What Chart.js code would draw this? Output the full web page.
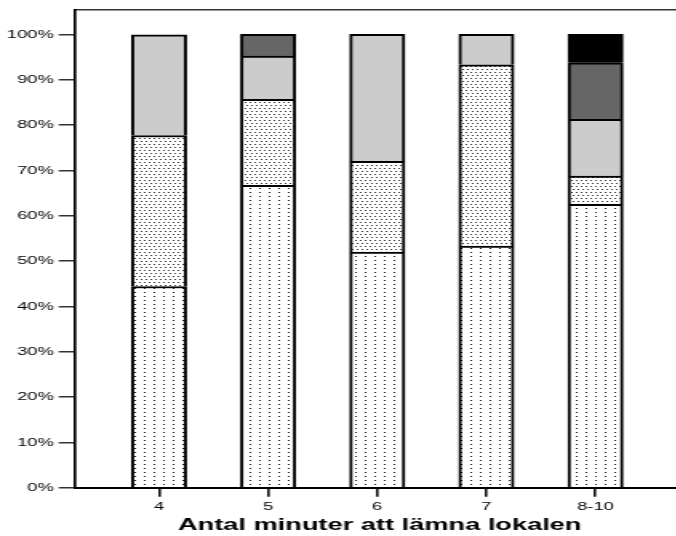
<!DOCTYPE html>
<html>
<head>
<meta charset="utf-8">
<script src="https://cdn.jsdelivr.net/npm/chart.js@4.4.1/dist/chart.umd.min.js"></script>
<style>
  html, body { margin: 0; padding: 0; background: #fff; }
  #wrap { width: 676px; height: 536px; overflow: hidden; position: relative; }
  /* the chart is drawn narrow and widened horizontally */
  #c { position: absolute; left: 0; top: 0; transform-origin: 0 0; transform: scaleX(1.6); }
</style>
</head>
<body>
<div id="wrap"><canvas id="c" width="428" height="536" style="width:428px;height:536px"></canvas></div>
<script>
// Categories: minutes needed to leave the room
const categories = ['4', '5', '6', '7', '8-10'];
const xPositions = [1, 2, 3, 4, 5];

// Percentage shares per category, stacked from the bottom
const shareA = [44.4, 66.7, 52.0, 53.3, 62.5];   // fine dotted
const shareB = [33.3, 19.0, 20.0, 40.0, 6.25];   // dense dots
const shareC = [22.2, 9.5, 28.0, 6.7, 12.5];     // light grey
const shareD = [null, 4.8, null, null, 12.5];    // dark grey
const shareE = [null, null, null, null, 6.25];   // black

const yTickValues = [0, 10, 20, 30, 40, 50, 60, 70, 80, 90, 100];
const axisTitle = 'Antal minuter att lämna lokalen';

function makePattern(w, h, dots, color) {
  const t = document.createElement('canvas');
  t.width = w; t.height = h;
  const g = t.getContext('2d');
  g.fillStyle = '#fff';
  g.fillRect(0, 0, w, h);
  g.fillStyle = color;
  dots.forEach(([x, y]) => g.fillRect(x, y, 1, 1));
  return g.createPattern(t, 'repeat');
}

const ctx = document.getElementById('c').getContext('2d');
const fineDots = makePattern(6, 4, [[0, 0]], '#111');
const denseDots = makePattern(6, 6, [[0, 0], [3, 0], [1, 3], [4, 3]], '#333');

const toPoints = arr => arr.map((v, i) => ({ x: xPositions[i], y: v }));

const common = { borderColor: '#000', borderWidth: 2, barThickness: 34.4, borderSkipped: 'start' };

const font = { family: "'Liberation Sans', Arial, Helvetica, sans-serif", size: 11.5 };

new Chart(ctx, {
  type: 'bar',
  data: {
    datasets: [
      { ...common, label: 'A', data: toPoints(shareA), backgroundColor: fineDots },
      { ...common, label: 'B', data: toPoints(shareB), backgroundColor: denseDots },
      { ...common, label: 'C', data: toPoints(shareC), backgroundColor: '#cccccc' },
      { ...common, label: 'D', data: toPoints(shareD), backgroundColor: '#666666' },
      { ...common, label: 'E', data: toPoints(shareE), backgroundColor: '#000000' }
    ]
  },
  options: {
    responsive: false,
    animation: false,
    devicePixelRatio: 1,
    layout: { padding: { top: 6.5, left: 0, right: 0, bottom: 0 } },
    plugins: { legend: { display: false }, tooltip: { enabled: false } },
    scales: {
      x: {
        type: 'linear',
        position: 'bottom',
        stacked: true,
        offset: false,
        min: 0.227,
        max: 5.818,
        afterBuildTicks: s => { s.ticks = xPositions.map(v => ({ value: v })); },
        afterFit: s => { s.height = 48.2; },
        ticks: {
          color: '#000',
          font,
          padding: 3,
          maxRotation: 0,
          autoSkip: false,
          callback: (v, i) => categories[i]
        },
        grid: { offset: false, drawOnChartArea: false, drawTicks: true, tickLength: 9, color: '#111', lineWidth: 1.6 },
        border: { display: true, color: '#000', width: 2 },
        title: {
          display: true,
          text: axisTitle,
          color: '#000',
          font: { family: "'Liberation Sans', Arial, Helvetica, sans-serif", size: 17, weight: 'bold' },
          padding: { top: 0, bottom: 0 }
        }
      },
      xTop: {
        type: 'linear',
        position: 'top',
        offset: false,
        min: 0.227,
        max: 5.818,
        afterFit: s => { s.height = 0; },
        ticks: { display: false },
        grid: { display: false, drawTicks: false },
        border: { display: true, color: '#333', width: 1.5 }
      },
      y: {
        stacked: true,
        min: 0,
        max: 105.4,
        afterBuildTicks: s => { s.ticks = yTickValues.map(v => ({ value: v })); },
        afterFit: s => { s.width = 46.7; },
        ticks: { color: '#000', font, padding: 3, callback: v => v + '%' },
        grid: { drawOnChartArea: false, drawTicks: true, tickLength: 10, color: '#333', lineWidth: 1.5 },
        border: { display: true, color: '#000', width: 1.7 }
      }
    }
  }
});
</script>
</body>
</html>
